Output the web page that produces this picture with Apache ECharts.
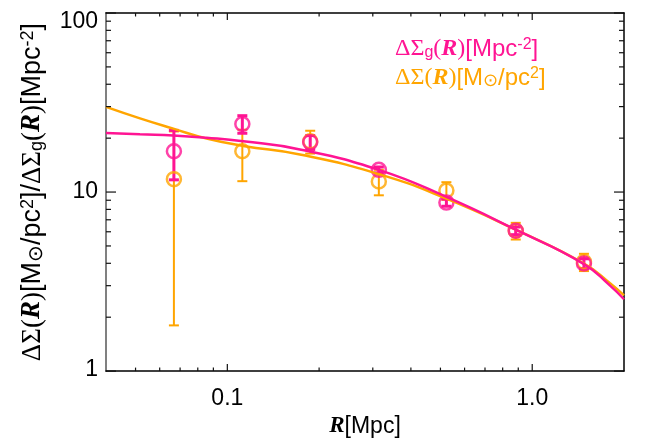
<!DOCTYPE html>
<html>
<head>
<meta charset="utf-8">
<script src="https://cdn.jsdelivr.net/npm/echarts@6/dist/echarts.min.js"></script>
<style>
  html, body { margin: 0; padding: 0; background: #fff; }
  #main { width: 664px; height: 443px; }
</style>
</head>
<body>
<div id="main"></div>
<script>
// measured points
const radius = [0.0668, 0.112, 0.187, 0.314, 0.523, 0.883, 1.478]
const galaxyProfile = [16.9, 24.0, 19.0, 13.3, 8.73, 6.08, 3.99]
const galaxyErr = [5.2, 2.7, 1.7, 0.5, 0.4, 0.3, 0.25]
const massProfile = [11.8, 16.9, 19.2, 11.45, 10.2, 6.08, 4.07]
const massErr = [10.0, 5.4, 2.8, 1.86, 1.15, 0.65, 0.45]

// fitted curves
const modelRadius = [0.04, 0.0517, 0.0665, 0.0855, 0.1128, 0.173, 0.314, 0.523, 0.883, 1.478, 1.8, 2.0]
const galaxyModel = [21.4, 21.0, 20.7, 20.1, 19.2, 17.3, 13.3, 9.39, 6.16, 3.96, 3.0, 2.52]
const massModel = [29.9, 25.8, 22.6, 19.9, 18.1, 16.2, 12.6, 9.19, 6.16, 3.99, 3.1, 2.65]

// axis ranges and ticks
const xRange = [0.04, 2.0]
const yRange = [1, 100]
const xMajor = [0.1, 1.0]
const xMinor = [0.05, 0.06, 0.07, 0.08, 0.09, 0.2, 0.3, 0.4, 0.5, 0.6, 0.7, 0.8, 0.9]
const yMajor = [1, 10, 100]
const yMinor = [2, 3, 4, 5, 6, 7, 8, 9, 20, 30, 40, 50, 60, 70, 80, 90]

const MAGENTA = '#FF1493'
const ORANGE = '#FFA500'
const SANS = 'Liberation Sans'
const SERIF = 'Liberation Serif'
const FS = 23

function richSet (color, size) {
  const small = Math.round(size * 0.66)
  return {
    d: { color: color, fontFamily: SERIF, fontSize: size, fontWeight: 'normal' },
    r: { color: color, fontFamily: SERIF, fontSize: size, fontWeight: 'bold', fontStyle: 'italic' },
    s: { color: color, fontFamily: SANS, fontSize: size, fontWeight: 'normal' },
    sub: { color: color, fontFamily: SANS, fontSize: small, fontWeight: 'normal', verticalAlign: 'bottom' },
    sun: { color: color, fontFamily: SANS, fontSize: small + 2, fontWeight: 'normal', verticalAlign: 'bottom' },
    sup: { color: color, fontFamily: SANS, fontSize: small, fontWeight: 'normal', verticalAlign: 'top' }
  }
}

function frameAxis (kind, position, color, width) {
  const range = kind === 'x' ? xRange : yRange
  return {
    type: 'log',
    logBase: 10,
    min: range[0],
    max: range[1],
    position: position,
    axisLine: { show: true, lineStyle: { color: color, width: width } },
    axisTick: { show: false },
    minorTick: { show: false },
    axisLabel: { show: false },
    splitLine: { show: false },
    minorSplitLine: { show: false }
  }
}

const xBottom = frameAxis('x', 'bottom', '#000', 1.5)
xBottom.axisLabel = {
  show: true,
  customValues: xMajor,
  margin: 16,
  color: '#000',
  fontFamily: SANS,
  fontSize: FS,
  formatter: v => (v >= 1 ? v.toFixed(1) : String(v))
}
xBottom.name = '{r|R}{s|[Mpc]}'
xBottom.nameLocation = 'middle'
xBottom.nameGap = 36
xBottom.nameTextStyle = { color: '#000', rich: richSet('#000', FS) }

const yLeft = frameAxis('y', 'left', '#808080', 2)
yLeft.axisLabel = {
  show: true,
  customValues: yMajor,
  margin: 8,
  color: '#000',
  fontFamily: SANS,
  fontSize: FS,
  formatter: v => (v >= 100 ? '{hi|100}' : v <= 1 ? '{lo|1}' : '{n|10}'),
  rich: {
    hi: { fontFamily: SANS, fontSize: FS, color: '#000', padding: [18, 0, 0, 0] },
    lo: { fontFamily: SANS, fontSize: FS, color: '#000', padding: [0, 0, 2, 0] },
    n: { fontFamily: SANS, fontSize: FS, color: '#000' }
  }
}
yLeft.name = '{d|ΔΣ(}{r|R}{d|)}{s|[M}{sun|⊙}{s|/pc}{sup|2}{s|]/}{d|ΔΣ}{sub|g}{d|(}{r|R}{d|)}{s|[Mpc}{sup|-2}{s|]}'
yLeft.nameLocation = 'middle'
yLeft.nameRotate = 90
yLeft.nameGap = 60
yLeft.nameTextStyle = { color: '#000', rich: richSet('#000', 27) }

function errorBars (name, color, width, vals, errs) {
  return {
    name: name,
    type: 'custom',
    xAxisIndex: 0,
    yAxisIndex: 0,
    data: radius.map((r, i) => [r, vals[i] - errs[i], vals[i] + errs[i]]),
    renderItem: function (params, api) {
      const lo = api.coord([api.value(0), api.value(1)])
      const hi = api.coord([api.value(0), api.value(2)])
      const cap = 5
      const st = { stroke: color, lineWidth: width }
      return {
        type: 'group',
        children: [
          { type: 'line', shape: { x1: lo[0], y1: lo[1], x2: hi[0], y2: hi[1] }, style: st },
          { type: 'line', shape: { x1: lo[0] - cap, y1: lo[1], x2: lo[0] + cap, y2: lo[1] }, style: st },
          { type: 'line', shape: { x1: hi[0] - cap, y1: hi[1], x2: hi[0] + cap, y2: hi[1] }, style: st }
        ]
      }
    },
    silent: true
  }
}

function points (name, color, vals) {
  return {
    name: name,
    type: 'scatter',
    xAxisIndex: 0,
    yAxisIndex: 0,
    data: radius.map((r, i) => [r, vals[i]]),
    symbol: 'circle',
    symbolSize: 14,
    itemStyle: { color: 'transparent', borderColor: color, borderWidth: 2.5 },
    silent: true
  }
}

function model (name, color, vals) {
  return {
    name: name,
    type: 'line',
    xAxisIndex: 0,
    yAxisIndex: 0,
    data: modelRadius.map((r, i) => [r, vals[i]]),
    smooth: true,
    showSymbol: false,
    lineStyle: { color: color, width: 2.5 },
    silent: true
  }
}

const chart = echarts.init(document.getElementById('main'))
chart.setOption({
  animation: false,
  backgroundColor: '#fff',
  title: [
    {
      text: '{d|ΔΣ}{sub|g}{d|(}{r|R}{d|)}{s|[Mpc}{sup|-2}{s|]}',
      left: 395,
      top: 37,
      padding: 0,
      textStyle: { color: MAGENTA, fontWeight: 'normal', rich: richSet(MAGENTA, 24) }
    },
    {
      text: '{d|ΔΣ(}{r|R}{d|)}{s|[M}{sun|⊙}{s|/pc}{sup|2}{s|]}',
      left: 395,
      top: 66,
      padding: 0,
      textStyle: { color: ORANGE, fontWeight: 'normal', rich: richSet(ORANGE, 24) }
    }
  ],
  grid: { left: 106, right: 40, top: 13, bottom: 66 },
  xAxis: [
    xBottom,
    frameAxis('x', 'top', '#000', 1.5)
  ],
  yAxis: [
    yLeft,
    frameAxis('y', 'right', '#000', 1.5)
  ],
  series: [
    model('massModel', ORANGE, massModel),
    errorBars('massErr', ORANGE, 2, massProfile, massErr),
    points('mass', ORANGE, massProfile),
    model('galaxyModel', MAGENTA, galaxyModel),
    errorBars('galaxyErr', MAGENTA, 3, galaxyProfile, galaxyErr),
    points('galaxy', MAGENTA, galaxyProfile)
  ]
})

// inward ticks on all four sides, positioned with the chart's own log scales
const toPx = (x, y) => chart.convertToPixel({ xAxisIndex: 0, yAxisIndex: 0 }, [x, y])
const lowCorner = toPx(xRange[0], yRange[0])
const highCorner = toPx(xRange[1], yRange[1])
const tickStyle = { stroke: '#111', lineWidth: 1.2 }
const ticks = []
function addX (values, len) {
  values.forEach(v => {
    const px = toPx(v, 10)[0]
    ticks.push({ type: 'line', silent: true, z: 100, shape: { x1: px, y1: lowCorner[1], x2: px, y2: lowCorner[1] - len }, style: tickStyle })
    ticks.push({ type: 'line', silent: true, z: 100, shape: { x1: px, y1: highCorner[1], x2: px, y2: highCorner[1] + len }, style: tickStyle })
  })
}
function addY (values, len) {
  values.forEach(v => {
    const py = toPx(0.1, v)[1]
    ticks.push({ type: 'line', silent: true, z: 100, shape: { x1: lowCorner[0], y1: py, x2: lowCorner[0] + len, y2: py }, style: tickStyle })
    ticks.push({ type: 'line', silent: true, z: 100, shape: { x1: highCorner[0], y1: py, x2: highCorner[0] - len, y2: py }, style: tickStyle })
  })
}
addX(xMajor, 7)
addX(xMinor, 3.5)
addY(yMajor, 10)
addY(yMinor, 5)
chart.setOption({ graphic: { elements: ticks } })
</script>
</body>
</html>
